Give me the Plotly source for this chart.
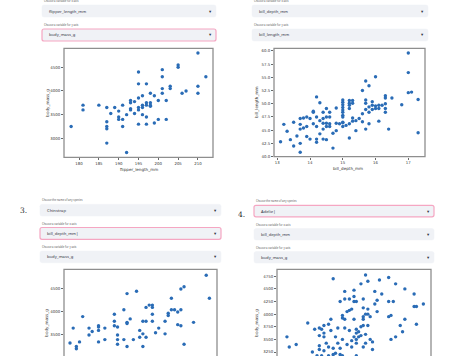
import plotly.graph_objects as go

W, H = 475, 356

# ---------------- data ----------------
# Panel 1: flipper_length_mm vs body_mass_g
p1_flipper = [210,205,205,201,195,201,212,195,197,203,203,210,201,207,198,201,206,210,199,196,
              195,193,194,197,198,200,202,193,198,198,197,196,191,185,181,187,189,190,193,193,
              195,195,196,181,188,192,194,196,190,197,190,191,200,202,187,199,195,197,178,187,
              191,187,187,192]
p1_mass = [4800,4550,4500,4450,4400,4300,4300,4150,4150,4100,4050,4100,4050,4000,3950,3950,3950,3950,3900,3900,
           3850,3800,3775,3750,3750,3800,3800,3750,3700,3675,3700,3700,3700,3700,3700,3650,3650,3575,3625,3600,
           3650,3600,3650,3600,3525,3500,3525,3500,3450,3450,3400,3400,3400,3400,3350,3325,3300,3300,3250,3250,
           3250,3200,2900,2700]

# Panel 2: bill_depth_mm vs bill_length_mm
p2_depth = [17.0,17.0,16.0,15.7,15.8,15.6,17.0,17.1,17.3,16.3,16.3,16.5,16.8,14.2,14.3,
            15.0,15.0,15.0,15.0,15.0,15.0,15.0,15.0,15.0,
            15.2,15.2,15.2,15.2,15.3,15.3,
            14.8,14.5,14.6,14.4,14.1,14.1,
            15.7,15.7,15.9,15.9,15.8,16.0,16.1,16.1,16.2,16.3,16.3,16.3,16.0,15.9,15.8,15.7,15.6,
            15.5,15.3,15.3,15.4,15.6,16.1,15.8,15.7,15.4,16.4,17.3,15.2,14.7,
            14.4,14.5,14.6,14.2,13.9,13.8,13.7,14.0,14.3,14.1,14.2,14.4,14.5,14.6,14.4,14.5,14.6,14.8,
            14.9,15.0,15.1,15.2,15.0,14.8,14.3,14.7,13.9,13.7,13.8,13.7,13.5,13.2,13.3,13.4,13.6,13.9,
            14.0,14.2,14.2,14.4,14.5,13.5,13.7,13.7,13.1]
p2_length = [59.6,55.9,55.1,54.3,53.4,52.5,52.1,52.2,50.8,51.5,51.1,51.1,49.8,51.3,50.2,
             50.7,50.3,49.8,49.3,48.8,48.4,47.8,47.5,46.4,
             50.6,50.1,49.7,49.1,50.6,50.1,
             49.2,49.1,48.4,48.4,48.6,48.4,
             50.7,50.1,50.4,49.7,49.4,49.6,49.7,49.1,49.7,50.0,49.1,48.4,49.1,48.9,48.4,48.9,48.1,
             47.2,47.3,46.7,46.8,46.6,46.7,46.2,45.2,44.9,45.2,44.5,43.5,41.6,
             47.2,47.5,47.5,47.5,47.5,47.3,47.2,47.2,46.8,46.2,45.7,46.3,46.3,46.2,45.2,45.7,45.7,46.3,
             46.2,46.5,45.9,46.2,45.7,44.9,44.3,44.4,45.7,46.1,45.4,45.2,46.5,46.1,44.8,43.2,43.9,43.8,
             43.3,43.3,42.7,43.3,43.2,42.0,42.5,40.8,42.8]

# Panel 3: Chinstrap bill_depth_mm vs body_mass_g
p3_depth = [20.7,20.8,20.0,19.9,19.6,18.5,18.2,18.1,18.9,19.0,19.0,18.8,19.6,19.7,19.9,19.8,19.5,19.5,
            19.0,17.8,18.3,18.2,18.2,18.7,18.8,19.0,19.4,20.3,19.8,19.9,19.2,18.6,19.1,19.4,18.7,18.8,
            18.6,18.4,18.1,17.9,17.9,17.9,18.2,18.7,17.5,17.3,17.0,17.1,17.0,17.3,17.3,17.3,17.5,17.8,
            17.8,17.9,16.8,16.5,16.4,16.6,16.6,16.7,20.0,17.9,17.5]
p3_mass = [4800,4300,4550,4500,4300,4450,4400,4050,4150,4150,4100,4100,4050,4050,4050,4000,3975,3925,
           3950,3950,3850,3775,3750,3800,3800,3800,3800,3775,3725,3700,3650,3600,3550,3525,3525,3450,
           3450,3400,3400,3400,3300,3500,3250,3250,3400,3350,3500,3575,3650,3675,3700,3600,3650,3800,
           3700,3675,3900,3650,3325,3250,3200,3350,3300,2900,2700]

# Panel 4: Adelie bill_depth_mm vs body_mass_g
p4_depth = [19.0,17.6,20.0,19.1,19.6,18.8,20.3,18.5,18.1,19.4,19.7,20.7,21.1,18.1,18.3,18.5,18.5,18.6,
            18.9,19.5,20.0,20.2,17.9,19.4,21.1,21.2,21.5,18.3,18.2,18.4,18.9,19.1,19.5,19.0,19.1,19.2,
            18.9,18.9,18.5,18.0,18.0,18.1,17.5,20.0,20.1,20.7,21.2,20.5,20.6,20.3,20.1,16.5,15.6,15.7,
            16.0,16.8,17.0,17.1,17.2,17.4,17.2,17.0,17.2,17.5,17.8,18.1,18.3,18.6,18.6,18.7,18.8,18.9,
            19.1,18.8,18.7,18.5,18.4,18.6,19.0,19.2,19.3,19.0,18.6,18.4,18.2,18.0,17.7,17.8,17.9,17.6,
            17.4,17.3,17.0,17.0,17.2,16.7,19.3,18.9,17.6,17.7,17.9,16.9,17.1,17.4,18.6,18.0,
            17.0,18.0,17.5,18.5,16.6,17.8,19.0,17.2,16.1,15.5]
p4_mass = [4775,4700,4725,4650,4675,4600,4600,4475,4450,4450,4400,4500,4400,4300,4300,4350,4250,4250,
           4300,4275,4250,4250,4250,4200,4150,4150,4200,4075,4050,4100,4125,4100,4050,4000,4000,3950,
           3950,3900,3900,3975,3925,3900,3900,3950,3975,3900,3800,3775,3650,3550,3500,3825,3550,3350,
           3400,3700,3725,3700,3775,3800,3625,3575,3550,3675,3725,3725,3675,3700,3625,3650,3750,3775,
           3775,3575,3550,3550,3475,3500,3600,3500,3450,3425,3425,3350,3400,3500,3550,3425,3325,3325,
           3350,3425,3375,3300,3275,3250,3300,3350,3200,3225,3200,3175,3175,3175,3175,3175,
           3050,3000,2900,3100,3050,2850,3050,3000,3100,3000]

# ---------------- figure ----------------
fig = go.Figure()
BLUE = "#2a6cb6"
TICKFONT = dict(family="DejaVu Sans", size=3.9, color="#333333")

panels = [
    (p1_flipper, p1_mass, (64, 213), (48.3, 157.3), [176.2, 213.8], [2600, 4900],
     [180,185,190,195,200,205,210], [3000,3500,4000,4500], None, True),
    (p2_depth, p2_length, (274, 425), (48.3, 156.7), [12.9, 17.51], [39.97, 60.5],
     [13,14,15,16,17], [40,42.5,45,47.5,50,52.5,55,57.5,60], ".1f", True),
    (p3_depth, p3_mass, (64, 217), (269.3, 356), [16.21, 21.04], [3043, 4928],
     [17,18,19,20,21], [3000,3500,4000,4500], None, False),
    (p4_depth, p4_mass, (277, 431), (269.3, 356), [15.17, 21.83], [3171, 4888],
     [16,17,18,19,20,21], [3250,3500,3750,4000,4250,4500,4750], None, False),
]

shapes = []
annotations = []
for i, (xs, ys, xd, yd, xr, yr, xt, yt, yfmt, showx) in enumerate(panels, start=1):
    sfx = "" if i == 1 else str(i)
    fig.add_trace(go.Scatter(x=xs, y=ys, mode="markers", xaxis="x" + sfx, yaxis="y" + sfx,
                             marker=dict(size=3.4, color=BLUE, line=dict(width=0)),
                             showlegend=False, hoverinfo="skip"))
    xa = dict(domain=[xd[0] / W, xd[1] / W], range=xr, anchor="y" + sfx, showgrid=False,
              zeroline=False, showline=False, tickvals=xt, ticks="outside" if showx else "",
              ticklen=2, tickwidth=0.8, tickcolor="#444", tickfont=TICKFONT,
              showticklabels=showx, automargin=False)
    ya = dict(domain=[1 - yd[1] / H, 1 - yd[0] / H], range=yr, anchor="x" + sfx, showgrid=False,
              zeroline=False, showline=False, tickvals=yt, ticks="outside",
              ticklen=2, tickwidth=0.8, tickcolor="#444", tickfont=TICKFONT, automargin=False)
    if yfmt:
        ya["tickformat"] = yfmt
    fig.update_layout(**{"xaxis" + sfx: xa, "yaxis" + sfx: ya})
    shapes.append(dict(type="rect", xref=f"x{sfx} domain", yref=f"y{sfx} domain",
                       x0=0, x1=1, y0=0 if showx else -1, y1=1,
                       line=dict(color="#8e8e8e", width=1.3), fillcolor="rgba(0,0,0,0)"))


def ann(text, x, y, size, color="#333333", family="DejaVu Sans", angle=0, xanchor="center"):
    annotations.append(dict(text=text, x=x / W, y=1 - y / H, xref="paper", yref="paper",
                            showarrow=False, textangle=angle, xanchor=xanchor, yanchor="middle",
                            font=dict(family=family, size=size, color=color)))

# axis titles
ann("flipper_length_mm", 139, 169, 4.1)
ann("body_mass_g", 46.7, 103, 4.1, angle=-90)
ann("bill_depth_mm", 348, 168.5, 4.1)
ann("bill_length_mm", 256.7, 102, 4.1, angle=-90)
ann("body_mass_g", 45.7, 323, 4.1, angle=-90)
ann("body_mass_g", 255.7, 323, 4.1, angle=-90)


def rrect(x0, y0, x1, y1, r):
    def P(x, y):
        return f"{x / W:.5f},{1 - y / H:.5f}"
    return (f"M {P(x0 + r, y0)} L {P(x1 - r, y0)} Q {P(x1, y0)} {P(x1, y0 + r)} "
            f"L {P(x1, y1 - r)} Q {P(x1, y1)} {P(x1 - r, y1)} L {P(x0 + r, y1)} "
            f"Q {P(x0, y1)} {P(x0, y1 - r)} L {P(x0, y0 + r)} Q {P(x0, y0)} {P(x0 + r, y0)} Z")

boxes = [
    (42, 5, 216, 17, "flipper_length_mm", False),
    (42, 29, 216, 41, "body_mass_g", True),
    (252, 5, 428, 17, "bill_depth_mm", False),
    (252, 29, 428, 41, "bill_length_mm", False),
    (40, 204.3, 221, 216, "Chinstrap", False),
    (40, 227.5, 221, 239.3, "bill_depth_mm|", True),
    (40, 251, 221, 262.7, "body_mass_g", False),
    (254, 205.3, 434, 216.8, "Adelie|", True),
    (254, 228.5, 434, 240, "bill_depth_mm", False),
    (254, 251.5, 434, 263, "body_mass_g", False),
]
for x0, y0, x1, y1, txt, focus in boxes:
    shapes.append(dict(type="path", path=rrect(x0, y0, x1, y1, 2), xref="paper", yref="paper",
                       fillcolor="#f0f2f6",
                       line=dict(color="#f5a6c2" if focus else "#f0f2f6", width=1.2 if focus else 0.5)))
    ann(txt, x0 + 4.5, (y0 + y1) / 2, 4.2, color="#31333f", family="Noto Sans", xanchor="left")
    ann("▾", x1 - 5.5, (y0 + y1) / 2, 4.5, color="#31333f", family="DejaVu Sans")

labels = [
    ("Choose a variable for x axis", 42, 1.4),
    ("Choose a variable for y axis", 42, 25),
    ("Choose a variable for x axis", 252, 1.4),
    ("Choose a variable for y axis", 252, 25),
    ("Choose the name of any species", 40, 200.2),
    ("Choose a variable for x axis", 40, 223.7),
    ("Choose a variable for y axis", 40, 247.3),
    ("Choose the name of any species", 254, 201),
    ("Choose a variable for x axis", 254, 224.5),
    ("Choose a variable for y axis", 254, 247.8),
]
for t, x, y in labels:
    ann(t, x, y, 2.7, color="#555555", family="Noto Sans", xanchor="left")

ann("3.", 18, 211, 7.5, color="#222222", family="DejaVu Serif", xanchor="left")
ann("4.", 235.5, 214, 7.5, color="#222222", family="DejaVu Serif", xanchor="left")

fig.update_layout(width=W, height=H, margin=dict(l=0, r=0, t=0, b=0),
                  paper_bgcolor="white", plot_bgcolor="white", hovermode=False,
                  shapes=shapes, annotations=annotations, showlegend=False)

fig.write_html("out.html", config={"displayModeBar": False, "staticPlot": True},
               post_script="document.body.style.margin='0px';document.body.style.padding='0px';")
